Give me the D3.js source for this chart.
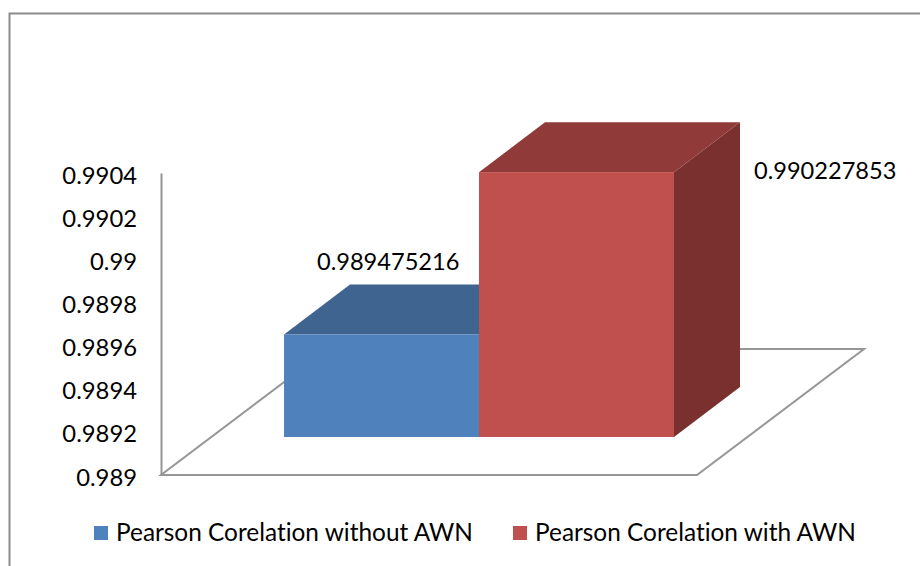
<!DOCTYPE html>
<html>
<head>
<meta charset="utf-8">
<script src="https://cdn.jsdelivr.net/npm/d3@7"></script>
<style>
  html, body { margin: 0; padding: 0; background: #fff; }
  svg { display: block; }
  text { font-family: Lato, "Open Sans", sans-serif; fill: #000; font-variant-ligatures: none; }
</style>
</head>
<body>
<svg id="chart" width="920" height="566"></svg>
<script>
const categories = ["Pearson Corelation without AWN", "Pearson Corelation with AWN"];
const values = [0.989475216, 0.990227853];
const valueLabels = ["0.989475216", "0.990227853"];
const tickValues = [0.989, 0.9892, 0.9894, 0.9896, 0.9898, 0.99, 0.9902, 0.9904];
const frontColors = ["#4f81bd", "#c0504d"];
const topColors = ["#3f648f", "#903a39"];
const sideColors = ["#355578", "#7b3030"];

const width = 920, height = 566;
const svg = d3.select("#chart");

// chart frame, only top and left show in the crop
svg.append("path")
    .attr("d", "M9.5," + height + "V13.5H" + width)
    .attr("fill", "none")
    .attr("stroke", "#8c8c8c")
    .attr("stroke-width", 2);

const y = d3.scaleLinear().domain([0.989, 0.9904]).range([475, 173]);
const x = d3.scaleBand().domain(categories).range([284, 674]);

// depth of the 3d box: floor runs back to (dx,dy), bars sit part way in
const floor = {x0: 161, x1: 697, dx: 167, dy: -126};
const bar = {dx: 66, dy: -50, inY: -38};

// floor outline
svg.append("path")
    .attr("d", d3.line()([
        [floor.x0, y.range()[0]],
        [floor.x1, y.range()[0]],
        [floor.x1 + floor.dx, y.range()[0] + floor.dy],
        [floor.x0 + floor.dx, y.range()[0] + floor.dy]
    ]) + "Z")
    .attr("fill", "none")
    .attr("stroke", "#969696")
    .attr("stroke-width", 2);

// value axis
const axis = svg.append("g")
    .attr("transform", "translate(161,0)")
    .call(d3.axisLeft(y).tickValues(tickValues).tickSize(0).tickPadding(24).tickFormat(d3.format("")));
axis.select(".domain").attr("stroke", "#969696").attr("stroke-width", 2);
axis.selectAll("text").style("font-size", "23.8px").attr("dy", "0.42em");

// bars: side and top first, then front
const bars = svg.selectAll("g.bar")
    .data(categories)
    .join("g")
    .attr("class", "bar");

const base = y(0.989) + bar.inY;
const barLeft = d => x(d);
const barRight = d => x(d) + x.bandwidth();
const barTop = (d, i) => y(values[i]) + bar.inY;

bars.append("path")
    .attr("fill", (d, i) => sideColors[i])
    .attr("d", (d, i) => d3.line()([
        [barRight(d), barTop(d, i)],
        [barRight(d) + bar.dx, barTop(d, i) + bar.dy],
        [barRight(d) + bar.dx, base + bar.dy],
        [barRight(d), base]
    ]) + "Z");

bars.append("path")
    .attr("fill", (d, i) => topColors[i])
    .attr("d", (d, i) => d3.line()([
        [barLeft(d), barTop(d, i)],
        [barLeft(d) + bar.dx, barTop(d, i) + bar.dy],
        [barRight(d) + bar.dx, barTop(d, i) + bar.dy],
        [barRight(d), barTop(d, i)]
    ]) + "Z");

bars.append("rect")
    .attr("fill", (d, i) => frontColors[i])
    .attr("x", d => barLeft(d))
    .attr("y", (d, i) => barTop(d, i))
    .attr("width", x.bandwidth())
    .attr("height", (d, i) => base - barTop(d, i));

// value labels, placed by hand relative to each bar
const labelOffsets = [[33, -64], [80, 7]];
svg.selectAll("text.value")
    .data(categories)
    .join("text")
    .attr("class", "value")
    .attr("x", (d, i) => (i === 0 ? barLeft(d) : barRight(d)) + labelOffsets[i][0])
    .attr("y", (d, i) => barTop(d, i) + labelOffsets[i][1])
    .style("font-size", "23.6px")
    .text((d, i) => valueLabels[i]);

// legend
const legendX = [94, 513];
const legend = svg.selectAll("g.legend")
    .data(categories)
    .join("g")
    .attr("class", "legend")
    .attr("transform", (d, i) => "translate(" + legendX[i] + ",526)");
legend.append("rect")
    .attr("width", 14).attr("height", 14)
    .attr("fill", (d, i) => frontColors[i]);
legend.append("text")
    .attr("x", 22).attr("y", 15)
    .style("font-size", "24.4px")
    .text(d => d);
</script>
</body>
</html>
